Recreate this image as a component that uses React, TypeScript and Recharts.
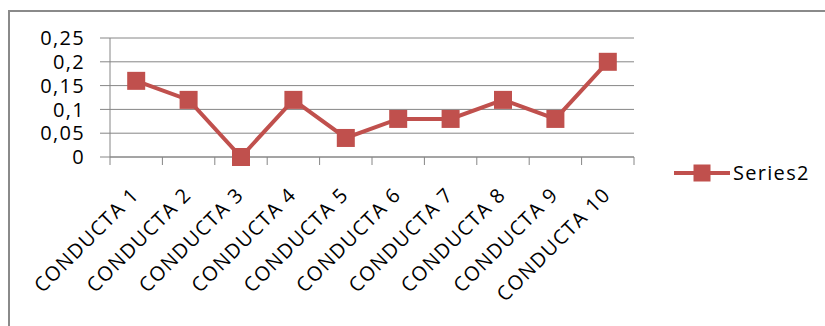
import React from 'react';
import { LineChart, Line, XAxis, YAxis, CartesianGrid, Legend } from 'recharts';

const categories = ['CONDUCTA 1', 'CONDUCTA 2', 'CONDUCTA 3', 'CONDUCTA 4', 'CONDUCTA 5', 'CONDUCTA 6', 'CONDUCTA 7', 'CONDUCTA 8', 'CONDUCTA 9', 'CONDUCTA 10'];
const series2 = [0.16, 0.12, 0, 0.12, 0.04, 0.08, 0.08, 0.12, 0.08, 0.2];
const yTicks = [0, 0.05, 0.1, 0.15, 0.2, 0.25];
const seriesName = 'Series2';

const data = categories.map((c, i) => ({ name: c, v: series2[i] }));

const W = 825;
const H = 326;
const PLOT_LEFT = 110;
const PLOT_RIGHT = 634;
const PLOT_TOP = 38;
const PLOT_BOTTOM = 157;
const BAND = (PLOT_RIGHT - PLOT_LEFT) / categories.length;
const RED = '#C0504D';
const GRID = '#868686';
const FONT = "'Open Sans', sans-serif";

const XTick = (props: any) => {
  const { x, y, payload, index } = props;
  const left = x - BAND / 2;
  const right = x + BAND / 2;
  return (
    <g>
      <line x1={left} x2={left} y1={y} y2={y + 8} stroke={GRID} strokeWidth={1} />
      {index === categories.length - 1 && (
        <line x1={right} x2={right} y1={y} y2={y + 8} stroke={GRID} strokeWidth={1} />
      )}
      <g transform={`translate(${x + 4},${y + 39})`}>
        <text
          transform="rotate(-45)"
          textAnchor="end"
          fontFamily={FONT}
          fontSize={20}
          letterSpacing={1.3}
          fill="#000"
        >
          {payload.value}
        </text>
      </g>
    </g>
  );
};

const YTick = (props: any) => {
  const { x, y, payload } = props;
  return (
    <text
      x={x}
      y={y}
      dy="0.355em"
      textAnchor="end"
      fontFamily={FONT}
      fontSize={20}
      letterSpacing={1.3}
      fill="#000"
    >
      {String(payload.value).replace('.', ',')}
    </text>
  );
};

const SquareDot = (props: any) => {
  const { cx, cy, index } = props;
  if (cx == null || cy == null) return null;
  const s = 18;
  return <rect key={`d-${index}`} x={cx - s / 2} y={cy - s / 2} width={s} height={s} fill={RED} />;
};

const LegendContent = (props: any) => {
  const { payload } = props;
  return (
    <div>
      {(payload || []).map((p: any, i: number) => (
        <div key={i} style={{ display: 'flex', alignItems: 'center' }}>
          <svg width={56} height={20}>
            <line x1={0} x2={56} y1={10} y2={10} stroke={RED} strokeWidth={4} />
            <rect x={19.5} y={1.5} width={17} height={17} fill={RED} />
          </svg>
          <span style={{ fontFamily: FONT, fontSize: 20, letterSpacing: 1.3, color: '#000', marginLeft: 3, lineHeight: '27px' }}>
            {p.value}
          </span>
        </div>
      ))}
    </div>
  );
};

export default function App() {
  return (
    <div style={{ position: 'absolute', left: 0, top: 0, width: W, height: H, overflow: 'hidden', background: '#fff' }}>
      <div
        style={{
          position: 'absolute',
          left: 8,
          top: 10,
          width: 900,
          height: 400,
          borderLeft: '2px solid #8a8a8a',
          borderTop: '2px solid #8a8a8a',
        }}
      />
      <div style={{ position: 'absolute', left: 0, top: 0 }}>
        <LineChart
          width={W}
          height={H}
          data={data}
          margin={{ top: PLOT_TOP, right: W - PLOT_RIGHT, bottom: 0, left: 0 }}
        >
          <CartesianGrid horizontal vertical={false} stroke={GRID} strokeWidth={1} />
          <XAxis
            dataKey="name"
            scale="band"
            interval={0}
            height={H - PLOT_BOTTOM}
            axisLine={{ stroke: GRID, strokeWidth: 1 }}
            tickLine={false}
            tickSize={0}
            tickMargin={0}
            tick={<XTick />}
          />
          <YAxis
            width={PLOT_LEFT}
            domain={[0, 0.25]}
            ticks={yTicks}
            interval={0}
            axisLine={{ stroke: GRID, strokeWidth: 1 }}
            tickLine={{ stroke: GRID, strokeWidth: 1 }}
            tickSize={10}
            tickMargin={15}
            tick={<YTick />}
          />
          <Legend
            layout="horizontal"
            verticalAlign="middle"
            align="center"
            wrapperStyle={{ left: 674, top: 159, width: 150 }}
            content={<LegendContent />}
          />
          <Line
            type="linear"
            dataKey="v"
            name={seriesName}
            stroke={RED}
            strokeWidth={4}
            dot={<SquareDot />}
            activeDot={false}
            isAnimationActive={false}
          />
        </LineChart>
      </div>
    </div>
  );
}
